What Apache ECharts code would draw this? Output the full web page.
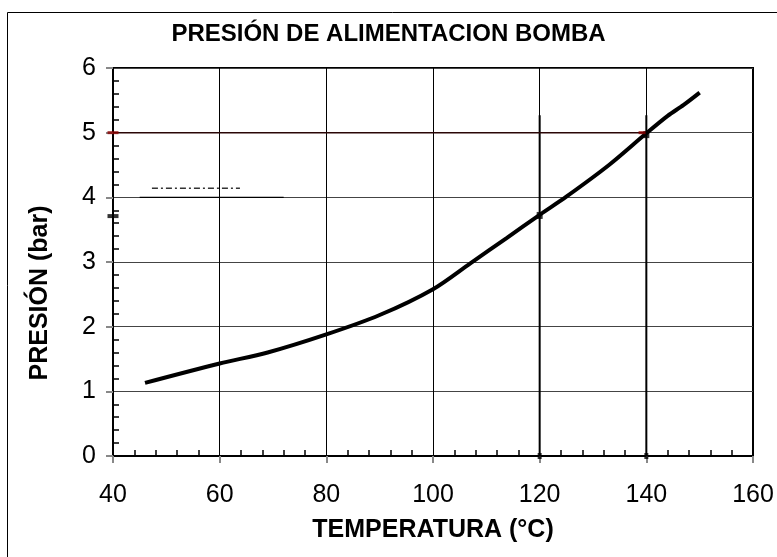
<!DOCTYPE html>
<html>
<head>
<meta charset="utf-8">
<script src="https://cdn.jsdelivr.net/npm/echarts@6/dist/echarts.min.js"></script>
<style>
html,body{margin:0;padding:0;background:#fff;}
#chart{width:777px;height:557px;}
</style>
</head>
<body>
<div id="chart"></div>
<script>
// Data
var temps = [46, 60, 69, 80, 90, 100, 107, 113.8, 120, 125, 133, 140, 144, 147, 150];
var pressures = [1.13, 1.43, 1.60, 1.88, 2.18, 2.58, 2.98, 3.37, 3.73, 4.01, 4.50, 4.99, 5.26, 5.43, 5.62];

var dropTemps = [120, 140];           // vertical reading lines
var dropTop = 5.27;
var readPressures = [3.72, 4.97];     // readings on the curve
var refPressure = 5.0;                // horizontal reading line
var axisMarkPressures = [5.0, 3.71];  // marks on the pressure axis
var stubLine = [[45, 4.0], [72, 4.0]];
var stubDash = [[47.3, 4.14], [63.8, 4.14]];

var xTicks = [40, 60, 80, 100, 120, 140, 160];
var yTicks = [0, 1, 2, 3, 4, 5, 6];

var curve = temps.map(function (t, i) { return [t, pressures[i]]; });

var FONT = '"Liberation Sans", Arial, sans-serif';

var series = [];
series.push({
  type: 'line', data: curve, smooth: 0.3, symbol: 'none',
  lineStyle: { color: '#000', width: 4 }, z: 5
});
dropTemps.forEach(function (t) {
  series.push({
    type: 'line', data: [[t, 0], [t, dropTop]], symbol: 'none',
    lineStyle: { color: '#000', width: 2 }, z: 4
  });
});
series.push({
  type: 'line', data: [[40, refPressure], [140, refPressure]], symbol: 'none',
  lineStyle: { color: '#2a0606', width: 1.5 }, z: 4
});
series.push({
  type: 'line', data: stubLine, symbol: 'none',
  lineStyle: { color: '#000', width: 1.2 }, z: 4
});
series.push({
  type: 'line', data: stubDash, symbol: 'none',
  lineStyle: { color: '#333', width: 1.5, type: [6, 3, 2, 3] }, z: 4
});
series.push({
  type: 'scatter', clip: false, symbol: 'rect', symbolSize: [6, 7],
  data: dropTemps.map(function (t, i) { return [t, readPressures[i]]; }),
  itemStyle: { color: '#000' }, z: 6
});
series.push({
  type: 'scatter', clip: false, symbol: 'rect', symbolSize: [4, 6],
  data: dropTemps.map(function (t) { return [t, 0]; }),
  itemStyle: { color: '#000' }, z: 6
});
series.push({
  type: 'scatter', clip: false, symbol: 'rect', symbolSize: [7, 3],
  data: [[139.2, refPressure]],
  itemStyle: { color: '#8b0000' }, z: 7
});
series.push({
  type: 'scatter', clip: false, symbol: 'rect', symbolSize: [11, 3],
  data: [[40, axisMarkPressures[0]]],
  itemStyle: { color: '#8b0000' }, z: 7
});
series.push({
  type: 'scatter', clip: false, symbol: 'rect', symbolSize: [11, 4],
  data: [[40, axisMarkPressures[1]]],
  itemStyle: { color: '#000' }, z: 7
});

var chart = echarts.init(document.getElementById('chart'));
chart.setOption({
  animation: false,
  backgroundColor: '#fff',
  title: {
    text: 'PRESIÓN DE ALIMENTACION BOMBA',
    left: 'center', top: 17,
    textStyle: { fontFamily: FONT, fontSize: 24, fontWeight: 'bold', color: '#000' }
  },
  graphic: [{
    type: 'rect', left: 5, top: 10, silent: true,
    shape: { width: 800, height: 600 },
    style: { fill: 'none', stroke: '#000', lineWidth: 1 }
  }],
  grid: {
    left: 113, right: 24, top: 68, bottom: 101,
    show: true, borderColor: '#000', borderWidth: 2, backgroundColor: 'transparent'
  },
  xAxis: {
    type: 'value', min: xTicks[0], max: xTicks[xTicks.length - 1], interval: 20,
    name: 'TEMPERATURA (°C)', nameLocation: 'middle', nameGap: 62,
    nameTextStyle: { fontFamily: FONT, fontSize: 25, fontWeight: 'bold', color: '#000' },
    axisLine: { show: true, onZero: false, lineStyle: { color: '#000', width: 2 } },
    axisTick: { show: true, length: 7, lineStyle: { color: '#888', width: 2 } },
    minorTick: { show: true, splitNumber: 5, length: -6, lineStyle: { color: '#000', width: 1.5 } },
    splitLine: { show: true, lineStyle: { color: '#000', width: 1 } },
    axisLabel: { fontFamily: FONT, fontSize: 25, color: '#000', margin: 27 }
  },
  yAxis: {
    type: 'value', min: yTicks[0], max: yTicks[yTicks.length - 1], interval: 1,
    name: 'PRESIÓN (bar)', nameLocation: 'middle', nameGap: 60,
    nameTextStyle: { fontFamily: FONT, fontSize: 25, fontWeight: 'bold', color: '#000', padding: [0, 62, 0, 0] },
    axisLine: { show: true, onZero: false, lineStyle: { color: '#000', width: 2 } },
    axisTick: { show: true, length: 7, lineStyle: { color: '#888', width: 2 } },
    minorTick: { show: true, splitNumber: 5, length: -6, lineStyle: { color: '#000', width: 1.5 } },
    splitLine: { show: true, lineStyle: { color: '#444', width: 1 } },
    axisLabel: { fontFamily: FONT, fontSize: 25, color: '#000', margin: 17 }
  },
  series: series
});
</script>
</body>
</html>
